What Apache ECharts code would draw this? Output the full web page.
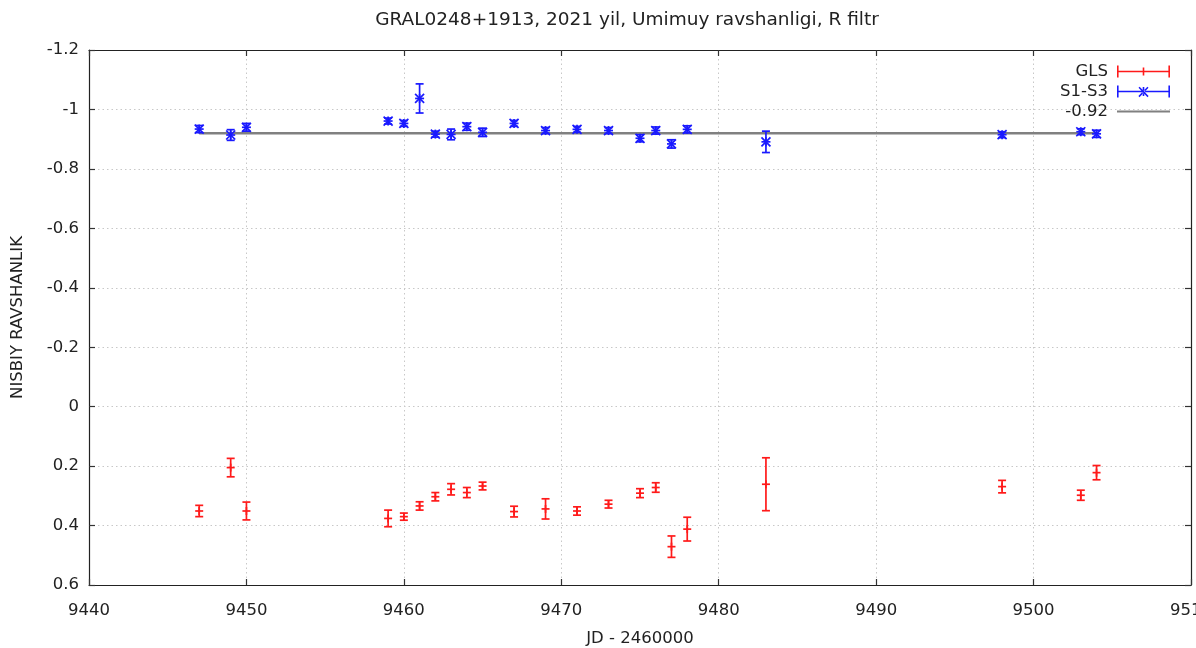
<!DOCTYPE html>
<html lang="en">
<head>
    <meta charset="UTF-8">
    <title>GRAL0248+1913</title>
    <script src="https://cdn.jsdelivr.net/npm/echarts@6/dist/echarts.min.js"></script>
    <style>
        html, body { margin: 0; padding: 0; background: #fff; }
        #chart { width: 1196px; height: 648px; }
    </style>
</head>
<body>
<div id="chart"></div>
<script>
    // JD - 2460000, shared by both series
    var jd = [9447, 9449, 9450, 9459, 9460, 9461, 9462, 9463, 9464, 9465, 9467,
              9469, 9471, 9473, 9475, 9476, 9477, 9478, 9483, 9498, 9503, 9504];
    // GLS
    var glsMag = [0.351, 0.205, 0.351, 0.376, 0.370, 0.334, 0.303, 0.278, 0.289, 0.267, 0.353,
                  0.344, 0.351, 0.328, 0.291, 0.272, 0.471, 0.412, 0.261, 0.269, 0.298, 0.222];
    var glsErr = [0.019, 0.031, 0.030, 0.028, 0.012, 0.014, 0.014, 0.019, 0.017, 0.013, 0.018,
                  0.034, 0.014, 0.013, 0.015, 0.016, 0.036, 0.040, 0.089, 0.021, 0.017, 0.024];
    // S1-S3
    var s13Mag = [-0.934, -0.914, -0.940, -0.961, -0.953, -1.037, -0.917, -0.916, -0.942, -0.923, -0.953,
                  -0.929, -0.933, -0.929, -0.903, -0.929, -0.884, -0.933, -0.891, -0.915, -0.925, -0.918];
    var s13Err = [0.012, 0.018, 0.013, 0.010, 0.010, 0.049, 0.010, 0.018, 0.012, 0.014, 0.010,
                  0.010, 0.010, 0.010, 0.012, 0.012, 0.014, 0.012, 0.036, 0.010, 0.010, 0.012];
    // mean level
    var meanLevel = -0.92;
    var meanRange = [9447, 9504];

    var font = 'DejaVu Sans';

    function zip(xs, ys, es) {
        var out = [];
        for (var i = 0; i < xs.length; i++) out.push([xs[i], ys[i], es[i]]);
        return out;
    }

    // error bar with caps and a + or * marker
    function errorBar(color, star) {
        return function (params, api) {
            var x = api.value(0), y = api.value(1), e = api.value(2);
            var c = api.coord([x, y]);
            var t = api.coord([x, y - e]);
            var b = api.coord([x, y + e]);
            var cap = 4, m = star ? 4.5 : 4;
            var st = { stroke: color, lineWidth: 1.7 };
            var kids = [
                { type: 'line', shape: { x1: c[0], y1: t[1], x2: c[0], y2: b[1] }, style: st },
                { type: 'line', shape: { x1: c[0] - cap, y1: t[1], x2: c[0] + cap, y2: t[1] }, style: st },
                { type: 'line', shape: { x1: c[0] - cap, y1: b[1], x2: c[0] + cap, y2: b[1] }, style: st },
                { type: 'line', shape: { x1: c[0] - m, y1: c[1], x2: c[0] + m, y2: c[1] }, style: st },
                { type: 'line', shape: { x1: c[0], y1: c[1] - m, x2: c[0], y2: c[1] + m }, style: st }
            ];
            if (star) {
                kids.push({ type: 'line', shape: { x1: c[0] - m, y1: c[1] - m, x2: c[0] + m, y2: c[1] + m }, style: st });
                kids.push({ type: 'line', shape: { x1: c[0] - m, y1: c[1] + m, x2: c[0] + m, y2: c[1] - m }, style: st });
            }
            return { type: 'group', children: kids };
        };
    }

    var iconGls = 'path://M0,5.2h53v1.6h-53z M0,0h1.6v12h-1.6z M51.4,0h1.6v12h-1.6z M25.7,2h1.6v8h-1.6z';
    var iconS13 = 'path://M0,5.2h53v1.6h-53z M0,0h1.6v12h-1.6z M51.4,0h1.6v12h-1.6z M25.7,1.5h1.6v9h-1.6z' +
                  ' M21.5,2.3l1.1,-1.1l9,9.4l-1.1,1.1z M31.5,2.3l-1.1,-1.1l-9,9.4l1.1,1.1z';
    var iconLine = 'path://M0,0h0.05v0.05h-0.05z M0,11.95h0.05v0.05h-0.05z M0,5h53v2h-53z';

    var chart = echarts.init(document.getElementById('chart'));

    var axisLine = { show: true, onZero: false, lineStyle: { color: '#222', width: 1.2 } };
    var tick = { show: true, inside: true, length: 6, lineStyle: { color: '#333', width: 1.2 } };
    var grid = { show: true, lineStyle: { color: '#c8c8c8', type: [1.5, 3], width: 1 } };

    var options = {
        animation: false,
        backgroundColor: '#fff',
        title: {
            text: 'GRAL0248+1913, 2021 yil, Umimuy ravshanligi, R filtr',
            left: 622,
            top: 6,
            textAlign: 'center',
            textStyle: { fontFamily: font, fontSize: 18.5, fontWeight: 'normal', color: '#222' }
        },
        legend: {
            orient: 'vertical',
            align: 'right',
            right: 21,
            top: 58,
            itemWidth: 53,
            itemHeight: 12,
            itemGap: 3,
            textStyle: { fontFamily: font, fontSize: 16.5, color: '#222', padding: [0, 4, 0, 0] },
            data: [
                { name: 'GLS', icon: iconGls },
                { name: 'S1-S3', icon: iconS13 },
                { name: '-0.92', icon: iconLine }
            ]
        },
        grid: { left: 89, right: 5, top: 50, bottom: 63, outerBoundsMode: 'none', containLabel: false },
        xAxis: [
            {
                type: 'value', min: 9440, max: 9510, interval: 10,
                name: 'JD - 2460000', nameLocation: 'middle', nameGap: 45,
                nameTextStyle: { fontFamily: font, fontSize: 16.5, color: '#222' },
                axisLine: axisLine, axisTick: tick,
                axisLabel: {
                    fontFamily: font, fontSize: 16.5, color: '#222', margin: 17,
                    formatter: function (v) { return String(v); }
                },
                splitLine: grid
            },
            {
                type: 'value', position: 'top', min: 9440, max: 9510, interval: 10,
                axisLine: axisLine, axisTick: tick, axisLabel: { show: false }, splitLine: { show: false }
            }
        ],
        yAxis: [
            {
                type: 'value', inverse: true, min: -1.2, max: 0.6, interval: 0.2,
                name: 'NISBIY RAVSHANLIK', nameLocation: 'middle', nameGap: 63, nameRotate: 90,
                nameTextStyle: { fontFamily: font, fontSize: 16.5, color: '#222' },
                axisLine: axisLine, axisTick: tick,
                axisLabel: { fontFamily: font, fontSize: 16.5, color: '#222', margin: 10 },
                splitLine: grid
            },
            {
                type: 'value', position: 'right', inverse: true, min: -1.2, max: 0.6, interval: 0.2,
                axisLine: axisLine, axisTick: tick, axisLabel: { show: false }, splitLine: { show: false }
            }
        ],
        series: [
            {
                name: 'GLS',
                type: 'custom',
                renderItem: errorBar('#ff1a1a', false),
                itemStyle: { color: '#ff1a1a' },
                encode: { x: 0, y: 1 },
                data: zip(jd, glsMag, glsErr),
                z: 3
            },
            {
                name: 'S1-S3',
                type: 'custom',
                renderItem: errorBar('#1a1aff', true),
                itemStyle: { color: '#1a1aff' },
                encode: { x: 0, y: 1 },
                data: zip(jd, s13Mag, s13Err),
                z: 4
            },
            {
                name: '-0.92',
                type: 'line',
                showSymbol: false,
                symbol: 'none',
                itemStyle: { color: '#808080' },
                lineStyle: { color: '#808080', width: 2.5 },
                data: [[meanRange[0], meanLevel], [meanRange[1], meanLevel]],
                z: 2
            }
        ]
    };

    chart.setOption(options);
</script>
</body>
</html>
